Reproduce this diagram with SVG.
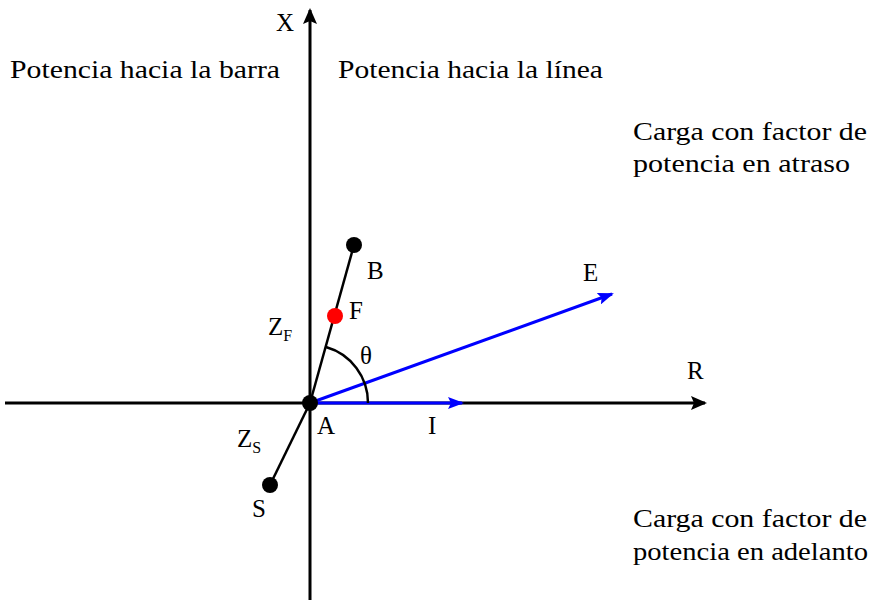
<svg xmlns="http://www.w3.org/2000/svg" width="883" height="600" viewBox="0 0 883 600">
<style>
text{font-family:"Liberation Serif","DejaVu Serif",serif;font-size:25px;fill:#000}
.sub{font-size:16px}
.ax{stroke:#000;stroke-width:3;fill:none}
.bl{stroke:#0000ff;stroke-width:3;fill:none}
.ln{stroke:#000;stroke-width:2.5;fill:none}
</style>
<defs>
<marker id="ab" markerWidth="16" markerHeight="12" refX="14" refY="6" orient="auto" markerUnits="userSpaceOnUse" viewBox="0 0 16 12"><path d="M0,0 L16,6 L0,12 L3,6 z" fill="#0000ff"/></marker>
<marker id="ak2" markerWidth="16" markerHeight="14" refX="14" refY="7" orient="auto" markerUnits="userSpaceOnUse" viewBox="0 0 16 14"><path d="M0,0 L16,7 L0,14 L3,7 z" fill="#000"/></marker>
</defs>
<g id="connectors">
<line class="ax" x1="310" y1="600" x2="310" y2="10" marker-end="url(#ak2)"/>
<line class="ax" x1="5" y1="403" x2="705" y2="403" marker-end="url(#ak2)"/>
<line class="ln" x1="310" y1="403" x2="354" y2="245"/>
<line class="ln" x1="310" y1="403" x2="270" y2="485"/>
<line class="bl" x1="310" y1="403" x2="612" y2="294" marker-end="url(#ab)"/>
<line class="bl" x1="310" y1="403" x2="462" y2="403" marker-end="url(#ab)"/>
<path class="ln" d="M326,347 A58,58 0 0 1 368,403"/>
</g>
<g id="node-A"><circle cx="310" cy="403" r="8" fill="#000"/><text x="317" y="434">A</text></g>
<g id="node-B"><circle cx="354" cy="245" r="8" fill="#000"/><text x="367" y="279">B</text></g>
<g id="node-F"><circle cx="335" cy="316" r="8" fill="#ff0000"/><text x="349" y="319">F</text></g>
<g id="node-S"><circle cx="270" cy="485" r="8" fill="#000"/><text x="252" y="517">S</text></g>
<g id="labels">
<text x="276" y="31">X</text>
<text x="687" y="379">R</text>
<text x="583" y="281">E</text>
<text x="428" y="434">I</text>
<text x="360" y="364">θ</text>
<text x="268" y="335">Z<tspan class="sub" dy="6">F</tspan></text>
<text x="237" y="447">Z<tspan class="sub" dy="6">S</tspan></text>
<text x="10" y="78" textLength="270" lengthAdjust="spacingAndGlyphs">Potencia hacia la barra</text>
<text x="338" y="78" textLength="265" lengthAdjust="spacingAndGlyphs">Potencia hacia la línea</text>
<text x="633" y="140" textLength="234" lengthAdjust="spacingAndGlyphs">Carga con factor de</text>
<text x="633" y="172" textLength="217" lengthAdjust="spacingAndGlyphs">potencia en atraso</text>
<text x="633" y="527" textLength="234" lengthAdjust="spacingAndGlyphs">Carga con factor de</text>
<text x="633" y="560" textLength="235" lengthAdjust="spacingAndGlyphs">potencia en adelanto</text>
</g>
</svg>
